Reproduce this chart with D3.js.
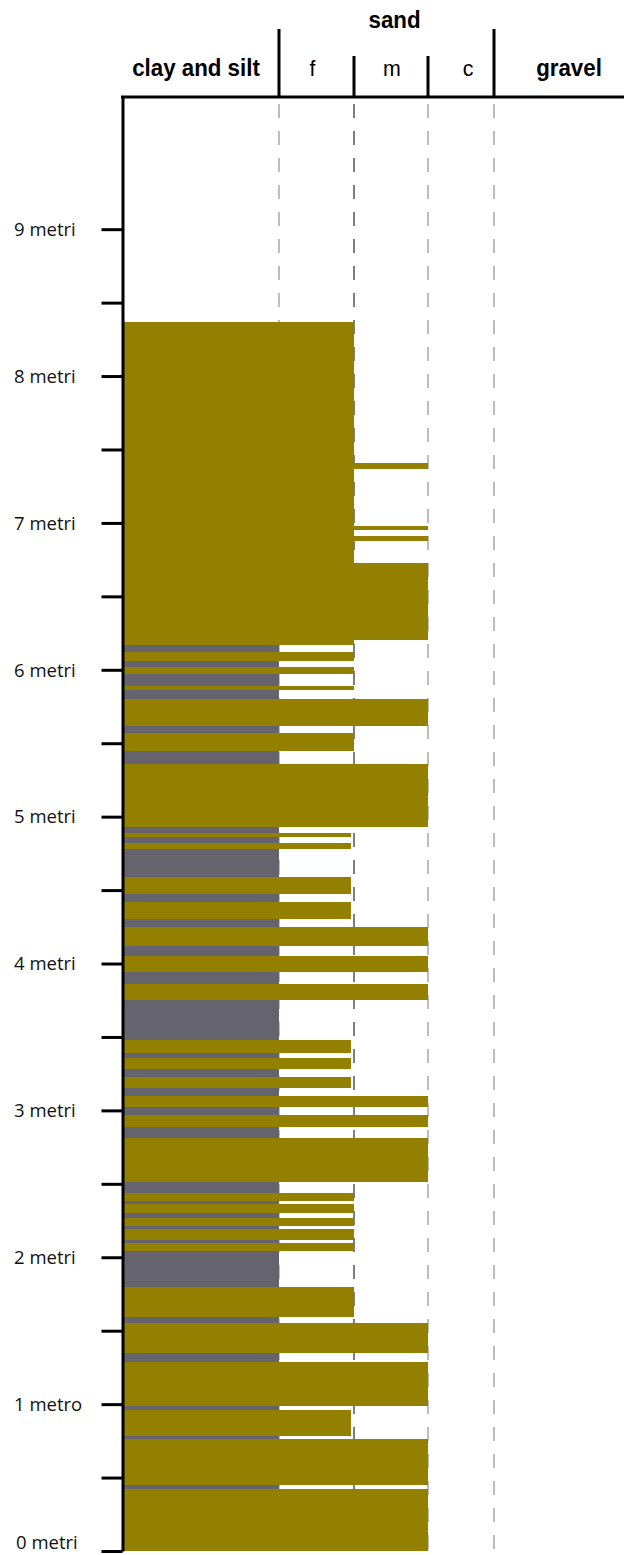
<!DOCTYPE html>
<html>
<head>
<meta charset="utf-8">
<script src="https://cdn.jsdelivr.net/npm/d3@7"></script>
<style>
  html, body { margin: 0; padding: 0; background: #fff; }
  svg { display: block; }
</style>
</head>
<body>
<svg id="log" width="624" height="1555"></svg>
<script>
// Sedimentary log: each bed has a base and top depth (m above the base of the section)
// and the grain-size class it reaches (1 = clay and silt, 2 = fine sand, 3 = medium sand;
// 1.96 marks fine sand just short of the medium boundary).
const bedBase = [
  0.00, 0.42, 0.45, 0.76, 0.78, 0.96, 0.99, 1.29, 1.35, 1.55,
  1.59, 1.80, 2.04, 2.10, 2.12, 2.19, 2.21, 2.27, 2.30, 2.36,
  2.38, 2.44, 2.51, 2.81, 2.89, 2.97, 3.02, 3.10, 3.15, 3.23,
  3.28, 3.36, 3.39, 3.48, 3.75, 3.86, 3.94, 4.05, 4.12, 4.25,
  4.30, 4.42, 4.47, 4.59, 4.78, 4.82, 4.86, 4.89, 4.93, 5.36,
  5.45, 5.57, 5.62, 5.80, 5.86, 5.89, 5.97, 6.02, 6.06, 6.12,
  6.17, 6.20, 6.73, 6.88, 6.91, 6.95, 6.98, 7.37, 7.41
];
const bedTop = [
  0.42, 0.45, 0.76, 0.78, 0.96, 0.99, 1.29, 1.35, 1.55, 1.59,
  1.80, 2.04, 2.10, 2.12, 2.19, 2.21, 2.27, 2.30, 2.36, 2.38,
  2.44, 2.51, 2.81, 2.89, 2.97, 3.02, 3.10, 3.15, 3.23, 3.28,
  3.36, 3.39, 3.48, 3.75, 3.86, 3.94, 4.05, 4.12, 4.25, 4.30,
  4.42, 4.47, 4.59, 4.78, 4.82, 4.86, 4.89, 4.93, 5.36, 5.45,
  5.57, 5.62, 5.80, 5.86, 5.89, 5.97, 6.02, 6.06, 6.12, 6.17,
  6.20, 6.73, 6.88, 6.91, 6.95, 6.98, 7.37, 7.41, 8.37
];
const bedGrain = [
  3, 1, 3, 1, 1.96, 1, 3, 1, 3, 1,
  2, 1, 2, 1, 2, 1, 2, 1, 2, 1,
  2, 1, 3, 1, 3, 1, 3, 1, 1.96, 1,
  1.96, 1, 1.96, 1, 3, 1, 3, 1, 3, 1,
  1.96, 1, 1.96, 1, 1.96, 1, 1.96, 1, 3, 1,
  2, 1, 3, 1, 2, 1, 2, 1, 2, 1,
  2, 3, 2, 3, 2, 3, 2, 3, 2
];

// Depth axis
const depthTicks = [0, 0.5, 1, 1.5, 2, 2.5, 3, 3.5, 4, 4.5, 5, 5.5, 6, 6.5, 7, 7.5, 8, 8.5, 9];
const depthLabels = ["0 metri", "1 metro", "2 metri", "3 metri", "4 metri",
                     "5 metri", "6 metri", "7 metri", "8 metri", "9 metri"];

// Grain-size columns (boundaries on the class scale)
const classBounds = [0, 1, 2, 3, 4, 5];
const classLabels = ["clay and silt", "f", "m", "c", "gravel"];
const groupLabel = "sand";

const colors = { clay: "#64636e", sand: "#937f00" };

const svg = d3.select("#log");

const y = d3.scaleLinear().domain([0, 9.9]).range([1551, 97]);
const x = d3.scaleLinear().domain(classBounds).range([123, 279, 354, 428, 494, 624]);

// dashed column guides
svg.append("g")
  .selectAll("line")
  .data(classBounds.slice(1, 5))
  .join("line")
  .attr("x1", d => x(d)).attr("x2", d => x(d))
  .attr("y1", y(9.9) + 1).attr("y2", y(0))
  .attr("stroke", d => d === 2 ? "#3a3a3a" : "#9a9a9a")
  .attr("stroke-width", 1.3)
  .attr("stroke-dasharray", "14 13")
  .attr("stroke-dashoffset", -6);

// beds
const beds = bedBase.map((b, i) => ({ base: b, top: bedTop[i], grain: bedGrain[i] }));
svg.append("g")
  .attr("shape-rendering", "crispEdges")
  .selectAll("rect")
  .data(beds)
  .join("rect")
  .attr("x", x(0))
  .attr("y", d => y(d.top))
  .attr("width", d => x(d.grain) - x(0))
  .attr("height", d => y(d.base) - y(d.top))
  .attr("fill", d => d.grain <= 1 ? colors.clay : colors.sand);

// vertical depth axis
const axis = d3.axisLeft(y)
  .tickValues(depthTicks)
  .tickSize(21)
  .tickSizeOuter(0)
  .tickFormat(d => Number.isInteger(d) ? depthLabels[d] : "");

const gAxis = svg.append("g")
  .attr("transform", "translate(122.5,0)")
  .call(axis);
gAxis.select(".domain").attr("stroke", "#000").attr("stroke-width", 3);
gAxis.selectAll(".tick line").attr("stroke", "#000").attr("stroke-width", 3);
gAxis.selectAll(".tick text")
  .attr("x", d => (d === 0 ? 16 : 14) - 122.5)
  .attr("dy", d => d === 0 ? "-0.12em" : "0.34em")
  .attr("text-anchor", "start")
  .attr("fill", "#111")
  .style("font-family", "'Open Sans', sans-serif")
  .style("font-size", "18.5px");

// header frame
const header = svg.append("g");
header.append("line")
  .attr("x1", 121).attr("x2", 624)
  .attr("y1", y(9.9)).attr("y2", y(9.9))
  .attr("stroke", "#000").attr("stroke-width", 3);
header.selectAll("line.div")
  .data(classBounds.slice(1, 5))
  .join("line")
  .attr("class", "div")
  .attr("x1", d => x(d)).attr("x2", d => x(d))
  .attr("y1", d => (d === 1 || d === 4) ? 29 : 56)
  .attr("y2", y(9.9))
  .attr("stroke", "#000").attr("stroke-width", 3);

// column labels (condensed by a horizontal squeeze)
const labelShift = [-5, -4, 1, 7, 10];
header.selectAll("text.cls")
  .data(classLabels)
  .join("text")
  .attr("class", "cls")
  .attr("transform", (d, i) =>
    `translate(${(x(classBounds[i]) + x(classBounds[i + 1])) / 2 + labelShift[i]},76) scale(0.93,1)`)
  .attr("text-anchor", "middle")
  .attr("fill", "#000")
  .style("font-family", "'Liberation Sans', Arial, sans-serif")
  .style("font-weight", (d, i) => (i === 0 || i === 4) ? "bold" : "normal")
  .style("font-size", (d, i) => (i === 0 || i === 4) ? "24px" : "23px")
  .text(d => d);

header.append("text")
  .attr("transform", `translate(${(x(1) + x(4)) / 2 + 8},28) scale(0.93,1)`)
  .attr("text-anchor", "middle")
  .attr("fill", "#000")
  .style("font-family", "'Liberation Sans', Arial, sans-serif")
  .style("font-weight", "bold")
  .style("font-size", "24px")
  .text(groupLabel);
</script>
</body>
</html>
